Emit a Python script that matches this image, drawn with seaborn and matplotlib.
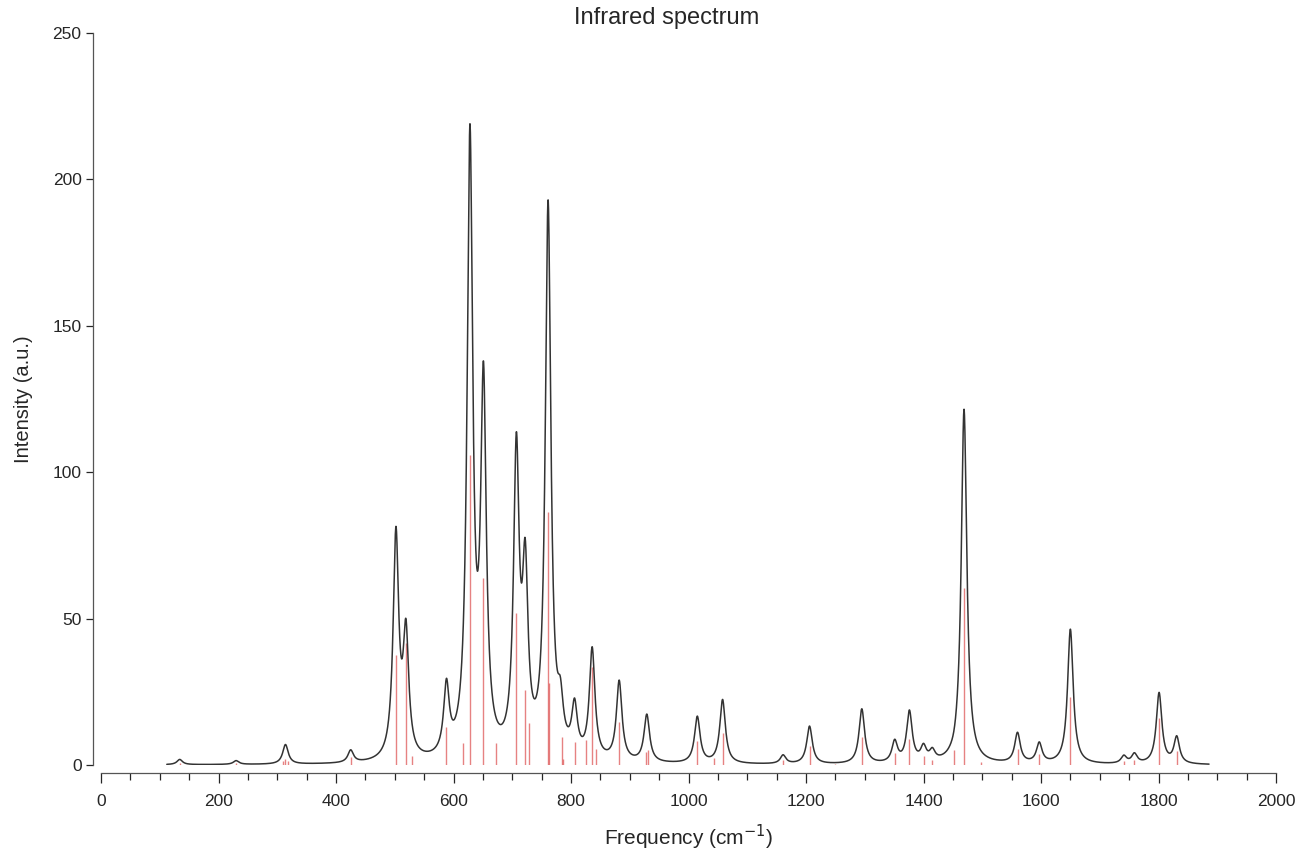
import numpy as np
import matplotlib
matplotlib.use("Agg")
import matplotlib.pyplot as plt
from matplotlib.ticker import MultipleLocator
import seaborn as sns

# computed IR modes (red sticks) =============================================
stick_freq = [134, 230, 310, 314, 318, 425, 502, 519, 529, 588, 617, 628, 651,
              672, 707, 722, 728, 761, 763, 784, 786, 806, 825, 836, 843, 882,
              927, 931, 1015, 1043, 1058, 1161, 1206, 1249, 1295, 1351, 1376,
              1400, 1415, 1452, 1469, 1498, 1560, 1597, 1650, 1741, 1759, 1801,
              1831]
stick_int = [0.8, 0.6, 1.5, 2.0, 1.5, 2.6, 37.6, 41.6, 3.0, 13.0, 7.6, 105.9,
             63.8, 7.4, 51.8, 25.6, 14.2, 86.5, 28.0, 9.7, 2.0, 8.0, 8.5, 33.6,
             5.3, 14.8, 4.5, 5.0, 8.3, 2.5, 11.0, 1.8, 6.5, 0.5, 9.5, 4.0, 9.0,
             3.2, 1.7, 5.1, 60.3, 1.0, 5.5, 3.8, 23.3, 1.5, 1.8, 16.0, 4.8]

# broadened spectrum: band positions and apex heights ========================
band_freq = [134, 230, 314, 425, 502, 519, 588, 628, 651, 707, 722, 761, 782,
             806, 836, 882, 929, 1015, 1058, 1161, 1206, 1295, 1351, 1376, 1400,
             1415, 1452, 1469, 1560, 1597, 1650, 1741, 1759, 1801, 1831]
band_height = [1.9, 1.5, 7.0, 5.2, 81.5, 50.0, 29.6, 219.0, 138.0, 113.8, 77.5,
               193.0, 30.0, 22.9, 40.4, 29.0, 17.4, 16.7, 22.4, 3.5, 13.3, 19.2,
               8.8, 18.8, 7.4, 6.0, 12.0, 121.5, 11.2, 7.9, 46.4, 3.4, 4.2, 24.8,
               10.0]
freq_range = (112, 1886)
hwhm = 5.7  # Lorentzian half width (cm-1)

# Lorentzian envelope passing through the apex heights ======================
def lorentz(x, x0):
    return hwhm**2 / ((np.asarray(x)[:, None] - np.asarray(x0)[None, :])**2 + hwhm**2)

amps = np.linalg.solve(lorentz(band_freq, band_freq), band_height)
x = np.arange(freq_range[0], freq_range[1] + 0.25, 0.25)
y = lorentz(x, band_freq) @ amps

# Figure =====================================================================
sns.set_style('ticks')
plt.rcParams['font.family'] = ['Liberation Sans', 'DejaVu Sans']

fig = plt.figure(figsize=(12.99, 8.55), dpi=100)
ax = fig.add_axes([101/1299, 1 - 765/855, 1175/1299, 732/855])

ax.vlines(stick_freq, 0, stick_int, color='#d94040', lw=1.0, alpha=0.65, zorder=1)
sns.lineplot(x=x, y=y, ax=ax, color='#333333', lw=1.1, zorder=2)

ax.set_xlim(0, 2000)
ax.set_ylim(0, 250)
ax.xaxis.set_major_locator(MultipleLocator(200))
ax.xaxis.set_minor_locator(MultipleLocator(50))
ax.yaxis.set_major_locator(MultipleLocator(50))
ax.tick_params(axis='x', which='major', length=7, width=0.9, labelsize=12.5, pad=8)
ax.tick_params(axis='x', which='minor', length=5, width=0.9)
ax.tick_params(axis='y', length=5, width=0.9, labelsize=12.5, pad=3)

sns.despine(ax=ax, offset=6)
for s in ['left', 'bottom']:
    ax.spines[s].set_color('#555555')
    ax.spines[s].set_linewidth(0.9)

ax.set_xlabel('Frequency (cm$^{-1}$)', fontsize=15, labelpad=10)
ax.set_ylabel('Intensity (a.u.)', fontsize=14.5, labelpad=14)
fig.text(667/1299, 1 - 18/855, 'Infrared spectrum', ha='center', va='center', fontsize=17)

fig.savefig('out.png', dpi=100)
